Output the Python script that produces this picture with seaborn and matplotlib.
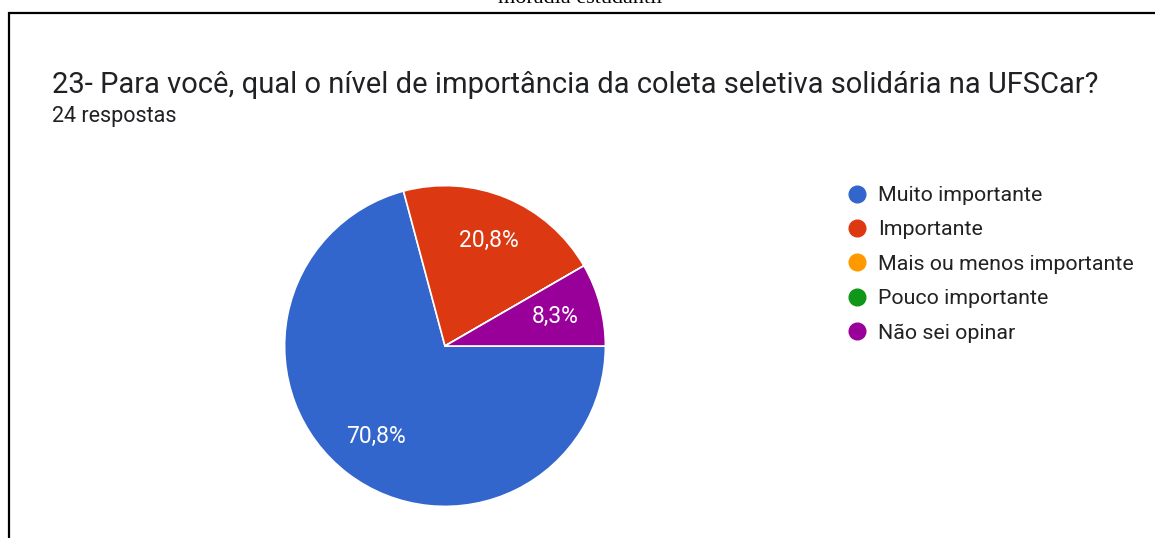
import matplotlib
matplotlib.use("Agg")
import matplotlib.pyplot as plt
from matplotlib.lines import Line2D
from matplotlib.patches import Rectangle
import seaborn as sns

# Survey answers (24 responses)
categories = ["Muito importante", "Importante", "Mais ou menos importante",
              "Pouco importante", "Não sei opinar"]
counts = [17, 5, 0, 0, 2]
colors = ["#3366cc", "#dc3912", "#ff9900", "#109618", "#990099"]
title = "23- Para você, qual o nível de importância da coleta seletiva solidária na UFSCar?"
subtitle = "24 respostas"
caption = "moradia estudantil"

sns.set_theme(style="white")
plt.rcParams["font.family"] = ["Roboto", "DejaVu Sans"]

W, H = 1155, 538
fig = plt.figure(figsize=(W / 100, H / 100), dpi=100)
fig.patch.set_facecolor("white")

# Page frame around the form card
fig.patches.append(Rectangle((8.5 / W, -0.05), 1.2, 1 - 12.5 / H + 0.05,
                             transform=fig.transFigure, fill=False,
                             edgecolor="black", linewidth=1.6))

# Caption line of the page above the card (cut by the crop)
fig.text(580 / W, 1 - 3 / H, caption, ha="center", va="baseline",
         fontsize=16, family="Liberation Serif", color="black")

fig.text(52 / W, 1 - 93 / H, title, ha="left", va="baseline",
         fontsize=21, color="#202124")
fig.text(52 / W, 1 - 122 / H, subtitle, ha="left", va="baseline",
         fontsize=15.5, color="#202124")

# Pie
cx, cy, r = 445, 346, 162
ax = fig.add_axes([(cx - r) / W, (H - cy - r) / H, 2 * r / W, 2 * r / H])


def pct_label(p):
    return "" if p < 0.05 else f"{p:.1f}%".replace(".", ",")


wedges, _, autotexts = ax.pie(
    counts, colors=colors, startangle=0, counterclock=False, radius=1,
    autopct=pct_label, pctdistance=0.71,
    wedgeprops=dict(edgecolor="white", linewidth=1.2),
    textprops=dict(color="white", fontsize=16.5),
)
ax.set_xlim(-1.01, 1.01)
ax.set_ylim(-1.01, 1.01)
ax.set_aspect("equal")
ax.axis("off")

# Legend
handles = [Line2D([0], [0], marker="o", linestyle="none", markersize=12,
                  markerfacecolor=c, markeredgecolor=c) for c in colors]
fig.legend(handles, categories, loc="upper left",
           bbox_to_anchor=(849 / W, 1 - 186 / H), frameon=False,
           fontsize=15.4, handlelength=0.75, handletextpad=0.6,
           labelspacing=0.72, borderaxespad=0, borderpad=0,
           labelcolor="#222222")

fig.savefig("out.png", dpi=100, facecolor="white")
